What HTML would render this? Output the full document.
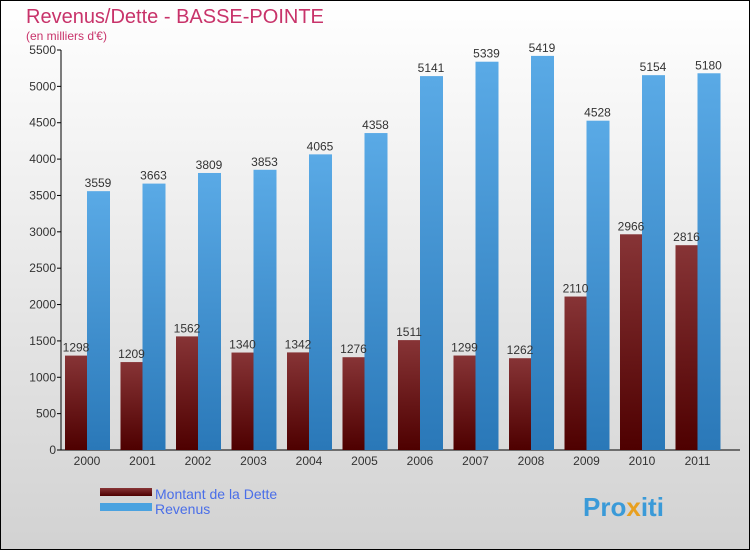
<!DOCTYPE html>
<html><head><meta charset="utf-8"><style>
body{margin:0;width:750px;height:550px;overflow:hidden;font-family:"Liberation Sans",sans-serif}
</style></head><body>
<svg width="750" height="550" xmlns="http://www.w3.org/2000/svg">
<defs>
<linearGradient id="bg" x1="0" y1="0" x2="0" y2="1"><stop offset="0" stop-color="#ffffff"/><stop offset="1" stop-color="#d2d2d2"/></linearGradient>
<linearGradient id="gd" x1="0" y1="0" x2="0" y2="1"><stop offset="0" stop-color="#873436"/><stop offset="1" stop-color="#4e0000"/></linearGradient>
<linearGradient id="gr" x1="0" y1="0" x2="0" y2="1"><stop offset="0" stop-color="#5aaae6"/><stop offset="1" stop-color="#2a78b8"/></linearGradient>
</defs>
<rect x="0.5" y="0.5" width="749" height="549" fill="url(#bg)" stroke="#000"/>
<text x="26" y="23" font-size="20" fill="#c8336a">Revenus/Dette - BASSE-POINTE</text>
<text x="26" y="40" font-size="12" fill="#c8336a">(en milliers d'€)</text>
<g id="axes"></g>
<g id="bars"></g>
<g>
<rect x="100" y="488" width="52" height="8" fill="url(#gd)"/>
<text x="155" y="499" font-size="14" fill="#4a6ee8">Montant de la Dette</text>
<rect x="100" y="503" width="52" height="8" fill="#4aa2e0"/>
<text x="155" y="514" font-size="14" fill="#4a6ee8">Revenus</text>
</g>
<text x="583" y="516" font-size="26" font-weight="bold" fill="#3a9ad8">Pro<tspan fill="#e8a020">x</tspan>iti</text>
</svg>
<script>
const years=["2000","2001","2002","2003","2004","2005","2006","2007","2008","2009","2010","2011"];
const dette=[1298,1209,1562,1340,1342,1276,1511,1299,1262,2110,2966,2816];
const revenus=[3559,3663,3809,3853,4065,4358,5141,5339,5419,4528,5154,5180];
const ticks=[0,500,1000,1500,2000,2500,3000,3500,4000,4500,5000,5500];
const NS="http://www.w3.org/2000/svg";
const y0=450,ymax=5500,ph=400;
function yS(v){return y0-v/ymax*ph;}
function xS(i){return 65+i*55.5;}
function mk(tag,attrs,parent){const e=document.createElementNS(NS,tag);for(const k in attrs)e.setAttribute(k,attrs[k]);parent.appendChild(e);return e;}
const ax=document.getElementById('axes'),bg=document.getElementById('bars');
let l=mk('line',{x1:61,y1:50,x2:61,y2:450,stroke:'#000'},ax);


l=mk('line',{x1:61,y1:450,x2:740,y2:450,stroke:'#000'},ax);


ticks.forEach(t=>{const y=yS(t);
const tk=mk('line',{x1:57,y1:y,x2:61,y2:y,stroke:'#000'},ax);


const tx=mk('text',{x:56,y:y+4,'font-size':12,'text-anchor':'end',fill:'#333'},ax);tx.textContent=t;

});
years.forEach((yr,i)=>{const x=xS(i);
const d=mk('rect',{x:x,y:yS(dette[i]),width:22,height:y0-yS(dette[i]),fill:'url(#gd)'},bg);


const r=mk('rect',{x:x+22,y:yS(revenus[i]),width:23,height:y0-yS(revenus[i]),fill:'url(#gr)'},bg);


const dl=mk('text',{x:x+11,y:yS(dette[i])-4,'font-size':12,'text-anchor':'middle',fill:'#333'},bg);dl.textContent=dette[i];


const rl=mk('text',{x:x+33,y:yS(revenus[i])-4,'font-size':12,'text-anchor':'middle',fill:'#333'},bg);rl.textContent=revenus[i];


const xl=mk('text',{x:x+22,y:465,'font-size':12,'text-anchor':'middle',fill:'#333'},bg);xl.textContent=yr;


});
</script>
</body></html>
